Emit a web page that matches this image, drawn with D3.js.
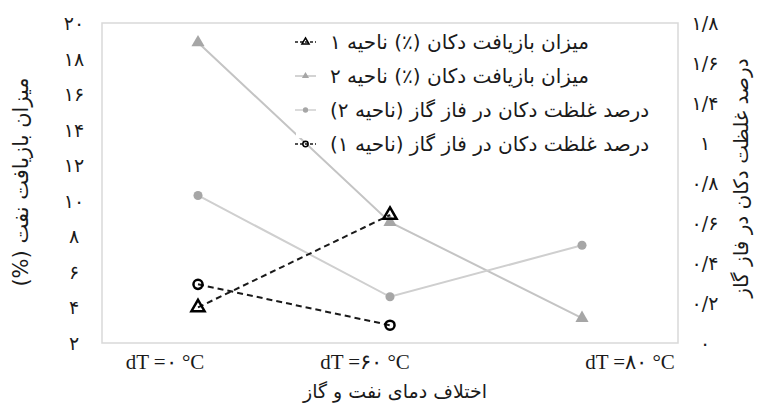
<!DOCTYPE html>
<html>
<head>
<meta charset="utf-8">
<script src="https://cdn.jsdelivr.net/npm/d3@7"></script>
<style>
  body { margin: 0; background: #fff; }
  text { font-family: "DejaVu Sans", sans-serif; fill: #1a1a1a; }
</style>
</head>
<body>
<div id="chart"></div>
<script>
// categories (x axis)
var categories = ['dT =۰ °C', 'dT =۶۰ °C', 'dT =۸۰ °C'];
// oil recovery (%) - left axis
var recoveryZone1 = [4.0, 9.2, null];
var recoveryZone2 = [18.9, 8.8, 3.4];
// decane concentration in gas phase - right axis
var gasZone2 = [0.83, 0.26, 0.55];
var gasZone1 = [0.33, 0.10, null];
// tick labels
var leftTicks = [2, 4, 6, 8, 10, 12, 14, 16, 18, 20];
var rightTickLabels = ['۰', '۰/۲', '۰/۴', '۰/۶', '۰/۸', '۱', '۱/۴', '۱/۶', '۱/۸'];

var legendNames = [
    'میزان بازیافت دکان (٪) ناحیه ۱',
    'میزان بازیافت دکان (٪) ناحیه ۲',
    'درصد غلظت دکان در فاز گاز (ناحیه ۲)',
    'درصد غلظت دکان در فاز گاز (ناحیه ۱)'
];

var toFa = function(n) {
    return String(n).replace(/\d/g, function(d) { return '۰۱۲۳۴۵۶۷۸۹'[+d]; });
};

var width = 767, height = 410;
var plot = { left: 102, right: 678, top: 23, bottom: 343 };

var svg = d3.select('#chart').append('svg')
    .attr('width', width)
    .attr('height', height);

var x = d3.scaleBand().domain(categories).range([plot.left, plot.right]);
var xc = function(i) { return x(categories[i]) + x.bandwidth() / 2; };
var yLeft = d3.scaleLinear().domain([2, 20]).range([plot.bottom, plot.top]);
var yRight = d3.scaleLinear().domain([0, 1.8]).range([plot.bottom, plot.top]);
var yRightLabel = d3.scalePoint().domain(rightTickLabels).range([plot.bottom, plot.top]);

// frame
svg.append('rect')
    .attr('x', plot.left).attr('y', plot.top)
    .attr('width', plot.right - plot.left).attr('height', plot.bottom - plot.top)
    .attr('fill', 'none').attr('stroke', '#d9d9d9').attr('stroke-width', 1.5);

// left tick labels
svg.selectAll('text.ytick-left')
    .data(leftTicks)
    .enter().append('text')
    .attr('class', 'ytick-left')
    .attr('x', 74)
    .attr('y', function(d) { return yLeft(d); })
    .attr('text-anchor', 'middle')
    .attr('dominant-baseline', 'central')
    .style('font-size', '19px')
    .text(function(d) { return toFa(d); });

// right tick labels
svg.selectAll('text.ytick-right')
    .data(rightTickLabels)
    .enter().append('text')
    .attr('class', 'ytick-right')
    .attr('x', 705)
    .attr('y', function(d) { return yRightLabel(d); })
    .attr('text-anchor', 'middle')
    .attr('dominant-baseline', 'central')
    .style('font-size', '19px')
    .text(function(d) { return d; });

// x tick labels (shifted like the original)
var xLabelShift = [-33, -25, 48];
svg.selectAll('text.xtick')
    .data(categories)
    .enter().append('text')
    .attr('class', 'xtick')
    .attr('x', function(d, i) { return xc(i) + xLabelShift[i]; })
    .attr('y', 369)
    .attr('text-anchor', 'middle')
    .style('font-family', '"Liberation Serif", serif')
    .style('font-size', '21px')
    .text(function(d) { return d; });

// axis titles
svg.append('text')
    .attr('transform', 'translate(28,182) rotate(-90)')
    .attr('text-anchor', 'middle')
    .attr('direction', 'rtl')
    .style('font-size', '21px')
    .text('میزان بازیافت نفت (%)');

svg.append('text')
    .attr('transform', 'translate(748,178) rotate(-90)')
    .attr('text-anchor', 'middle')
    .attr('direction', 'rtl')
    .style('font-size', '20px')
    .text('درصد غلظت دکان در فاز گاز');

svg.append('text')
    .attr('x', 395).attr('y', 398)
    .attr('text-anchor', 'middle')
    .style('font-size', '19px')
    .text('اختلاف دمای نفت و گاز');

// series
var series = [
    { values: recoveryZone2, y: yLeft, color: '#c4c4c4', marker: '#a6a6a6', dash: null, shape: 'tri', filled: true },
    { values: gasZone2, y: yRight, color: '#cfcfcf', marker: '#a6a6a6', dash: null, shape: 'circle', filled: true },
    { values: recoveryZone1, y: yLeft, color: '#1a1a1a', marker: '#000', dash: '6,4', shape: 'tri', filled: false },
    { values: gasZone1, y: yRight, color: '#1a1a1a', marker: '#000', dash: '6,4', shape: 'circle', filled: false }
];

var line = function(s) {
    return d3.line()
        .defined(function(d) { return d != null; })
        .x(function(d, i) { return xc(i); })
        .y(function(d) { return s.y(d); });
};

series.forEach(function(s) {
    svg.append('path')
        .datum(s.values)
        .attr('fill', 'none')
        .attr('stroke', s.color)
        .attr('stroke-width', 2)
        .attr('stroke-dasharray', s.dash)
        .attr('d', line(s));

    var pts = s.values.map(function(v, i) { return { v: v, i: i }; })
        .filter(function(d) { return d.v != null; });

    svg.selectAll(null)
        .data(pts)
        .enter().append('path')
        .attr('transform', function(d) { return 'translate(' + xc(d.i) + ',' + s.y(d.v) + ')'; })
        .attr('d', d3.symbol().type(s.shape === 'tri' ? d3.symbolTriangle : d3.symbolCircle).size(s.shape === 'tri' ? 75 : 65))
        .attr('fill', s.filled ? s.marker : 'none')
        .attr('stroke', s.filled ? 'none' : s.marker)
        .attr('stroke-width', 2.5);
});

// legend
var legendOrder = [2, 0, 1, 3];
var legend = svg.append('g');
legend.append('rect')
    .attr('x', 296).attr('y', 24)
    .attr('width', 381).attr('height', 114)
    .attr('fill', '#fff');

var rows = legend.selectAll('g.row')
    .data(legendOrder)
    .enter().append('g')
    .attr('class', 'row')
    .attr('transform', function(d, i) { return 'translate(0,' + (42 + i * 34) + ')'; });

rows.append('line')
    .attr('x1', 295).attr('x2', 316)
    .attr('stroke', function(d) { return series[d].color; })
    .attr('stroke-width', 1.5)
    .attr('stroke-dasharray', function(d) { return series[d].dash ? '3,2' : null; });

rows.append('path')
    .attr('transform', 'translate(305.5,0)')
    .attr('d', function(d) {
        return d3.symbol().type(series[d].shape === 'tri' ? d3.symbolTriangle : d3.symbolCircle).size(22)();
    })
    .attr('fill', function(d) { return series[d].filled ? series[d].marker : 'none'; })
    .attr('stroke', function(d) { return series[d].filled ? 'none' : series[d].marker; })
    .attr('stroke-width', 1.5);

rows.append('text')
    .attr('x', 330)
    .attr('dominant-baseline', 'central')
    .style('font-size', '20px')
    .text(function(d, i) { return legendNames[i]; });
</script>
</body>
</html>
